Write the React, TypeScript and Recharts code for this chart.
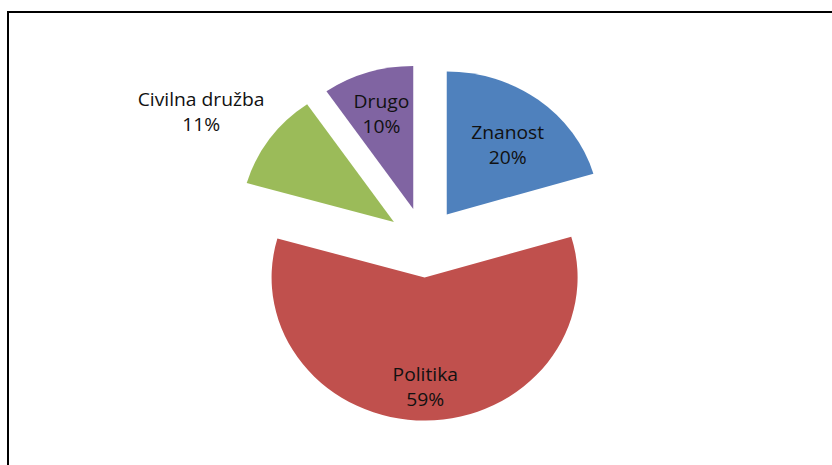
import React from 'react';
import { PieChart, Pie, Cell, Sector } from 'recharts';

// shares (labels round them)
const categories = ['Znanost', 'Politika', 'Civilna družba', 'Drugo'];
const shares = [20.4, 59.0, 11.0, 9.6];
const colors = ['#4F81BD', '#C0504D', '#9BBB59', '#8064A2'];

const data = categories.map((name, i) => ({ name, value: shares[i] }));

const RAD = Math.PI / 180;
const EXPLODE = 35;
const CX = 419;
const CY = 237.5;
const FONT = "'Open Sans', sans-serif";

// label placement, as a fraction of the radius from the slice's own centre
const LABEL_POS: Record<string, { r: number; da: number }> = {
  Znanost: { r: 0.63, da: -2.5 },
  Politika: { r: 0.76, da: 0 },
  'Civilna družba': { r: 1.48, da: 4 },
  Drugo: { r: 0.7, da: 0 },
};

function explodedCenter(cx: number, cy: number, midAngle: number) {
  return {
    x: cx + EXPLODE * Math.cos(-midAngle * RAD),
    y: cy + EXPLODE * Math.sin(-midAngle * RAD),
  };
}

function ExplodedSector(props: any) {
  const c = explodedCenter(props.cx, props.cy, props.midAngle);
  return (
    <Sector
      cx={c.x}
      cy={c.y}
      innerRadius={props.innerRadius}
      outerRadius={props.outerRadius}
      startAngle={props.startAngle}
      endAngle={props.endAngle}
      fill={props.fill}
      stroke="none"
    />
  );
}

function renderLabel(props: any) {
  const { cx, cy, midAngle, outerRadius, percent } = props;
  const name = props.name ?? props.payload?.name;
  const c = explodedCenter(cx, cy, midAngle);
  const pos = LABEL_POS[name] || { r: 0.6, da: 0 };
  const a = (midAngle + pos.da) * RAD;
  const x = c.x + outerRadius * pos.r * Math.cos(-a);
  const y = c.y + outerRadius * pos.r * Math.sin(-a);
  return (
    <text x={x} y={y} textAnchor="middle" fill="#111" fontSize={18} fontFamily={FONT}>
      <tspan x={x} y={y - 12.5} dominantBaseline="central">{name}</tspan>
      <tspan x={x} y={y + 12.5} dominantBaseline="central">{Math.round(percent * 100)}%</tspan>
    </text>
  );
}

export default function App() {
  return (
    <div style={{ position: 'absolute', left: 0, top: 0, width: 832, height: 465, overflow: 'hidden', background: '#fff' }}>
      <div
        style={{
          position: 'absolute',
          left: 7,
          top: 11,
          width: 900,
          height: 500,
          borderTop: '2px solid #000',
          borderLeft: '2px solid #000',
        }}
      />
      <div style={{ position: 'absolute', left: 0, top: 0, transform: 'scaleX(1.07)', transformOrigin: `${CX}px 0` }}>
        <PieChart width={832} height={465}>
          <Pie
            data={data}
            dataKey="value"
            nameKey="name"
            cx={CX}
            cy={CY}
            outerRadius={143}
            startAngle={90}
            endAngle={-270}
            stroke="none"
            isAnimationActive={false}
            labelLine={false}
            label={renderLabel}
            shape={ExplodedSector}
          >
            {data.map((d, i) => (
              <Cell key={d.name} fill={colors[i]} />
            ))}
          </Pie>
        </PieChart>
      </div>
    </div>
  );
}
